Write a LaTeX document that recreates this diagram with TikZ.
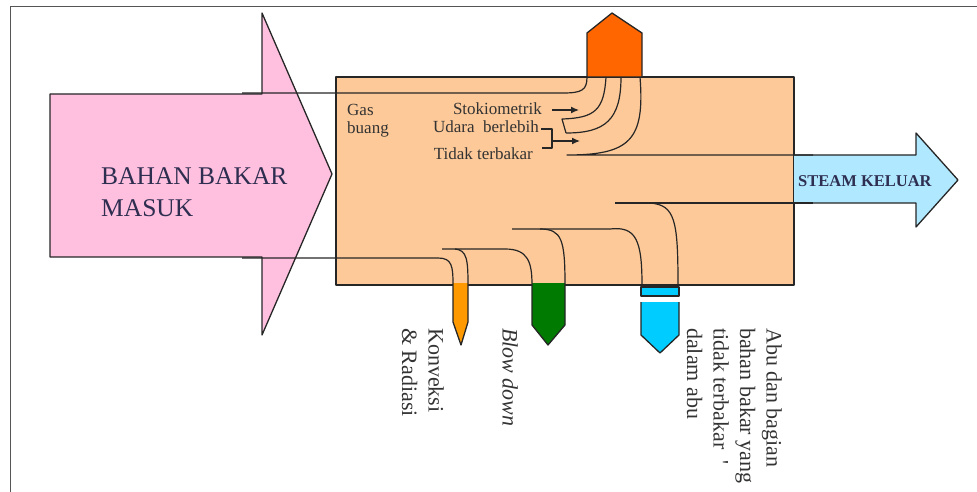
\documentclass[tikz,border=0pt]{standalone}
\usepackage{fontspec}
\setmainfont{Liberation Serif}
\newfontfamily\tms{Liberation Serif}
\usetikzlibrary{arrows.meta}
\definecolor{pinkfill}{HTML}{FFC0E0}
\definecolor{peach}{HTML}{FDC998}
\definecolor{chim}{HTML}{FF6600}
\definecolor{steam}{HTML}{B0E8FF}
\definecolor{konv}{HTML}{FF9900}
\definecolor{blow}{HTML}{007A00}
\definecolor{abu}{HTML}{00CCFF}
\definecolor{navy}{HTML}{2E2E50}
\definecolor{framegray}{HTML}{555555}
\definecolor{txt}{HTML}{333333}
\begin{document}
\begin{tikzpicture}[x=1pt,y=-1pt,line join=round,
  outline/.style={draw=black!85,line width=1.3pt},
  flow/.style={draw=black!85,line width=1.2pt},
  boxtext/.style={inner sep=0pt,text=txt,font=\tms\fontsize{17}{18.5}\selectfont},
  vlabel/.style={inner sep=0pt,rotate=-90,anchor=north west,align=left,text=txt,font=\tms\fontsize{22}{26.5}\selectfont},
  tip/.style={-{Latex[length=8pt,width=7pt]}}]
\useasboundingbox (0,0) rectangle (977,492);
% frame
\draw[framegray,line width=1.8pt] (10.5,492) -- (10.5,6.5) -- (977,6.5);
% fuel arrow
\draw[outline,fill=pinkfill] (50,94) -- (262,94) -- (262,13) -- (332,174) -- (262,335) -- (262,257) -- (50,257) -- cycle;
% boiler box
\draw[outline,fill=peach] (336,77) rectangle (794,285);
% chimney
\draw[outline,fill=chim] (587,77) -- (587,33) -- (612,13) -- (642,33) -- (642,77) -- cycle;
% steam arrow
\draw[outline,fill=steam] (794,155) -- (916,155) -- (916,133) -- (958,180) -- (916,227) -- (916,203) -- (794,203);
% output arrows
\fill[konv] (453,283) -- (468,283) -- (468,322) -- (461,345) -- (453,322) -- cycle;
\draw[outline] (453,285) -- (453,322) -- (461,345) -- (468,322) -- (468,285);
\fill[blow] (532,283) -- (565,283) -- (565,325) -- (548,345) -- (532,325) -- cycle;
\draw[outline] (532,285) -- (532,325) -- (548,345) -- (565,325) -- (565,285);
\draw[outline,fill=abu] (641,287) rectangle (679,296);
\fill[abu] (641,302) -- (679,302) -- (679,335) -- (660,353) -- (641,335) -- cycle;
\draw[outline] (641,302) -- (641,335) -- (660,353) -- (679,335) -- (679,302);
% flue gas flows
\draw[flow] (242,93) -- (563,93) .. controls (582,93) and (587,90) .. (587,77);
\draw[flow] (606,77) .. controls (604,110) and (595,118) .. (562,119) -- (566,133);
\draw[flow] (621,77) .. controls (621,120) and (605,133) .. (566,133);
\draw[flow] (640,77) .. controls (645,140) and (630,155) .. (567,155) -- (813,155);
% bottom flows
\draw[flow] (242,258) -- (438,258) .. controls (452,258) and (453,266) .. (453,285);
\draw[flow] (442,249) -- (505,249) .. controls (528,249) and (532,262) .. (532,285);
\draw[flow] (455,249) .. controls (467,250) and (468,260) .. (468,285);
\draw[flow] (512,229) -- (610,229) .. controls (636,226) and (642,240) .. (642,285);
\draw[flow] (540,229) .. controls (562,229) and (565,240) .. (565,285);
\draw[flow] (615,203) -- (813,203);
\draw[flow] (650,203) .. controls (675,205) and (678,220) .. (678,285);
% texts
\node[inner sep=0pt,anchor=north west,align=left,text=navy,font=\tms\fontsize{25.5}{32.5}\selectfont] (fuel) at (101,167) {BAHAN BAKAR\\MASUK};
\node[inner sep=0pt,anchor=west,text=navy,font=\tms\bfseries\fontsize{16.5}{18}\selectfont] (steamlbl) at (798,181) {STEAM KELUAR};
\node[boxtext,anchor=north west,align=left] (gas) at (347,104) {Gas\\buang};
\node[boxtext,anchor=base east] (stoik) at (542,115) {Stokiometrik};
\node[boxtext,anchor=base east] (udara) at (539,133) {Udara\ \ berlebih};
\node[boxtext,anchor=base east] (tidak) at (533,159) {Tidak terbakar};
\coordinate (s1) at (552,110);
\coordinate (s2) at (579,110);
\draw[flow,tip] (s1) -- (s2);
\coordinate (b1) at (541,129);
\coordinate (b2) at (552,129);
\coordinate (b3) at (552,148);
\coordinate (b4) at (542,148);
\draw[flow] (b1) -- (b2) -- (b3) -- (b4);
\coordinate (b5) at (552,141);
\coordinate (b6) at (580,141);
\draw[flow,tip] (b5) -- (b6);
\node[vlabel] (konvlbl) at (444,328) {Konveksi\\\& Radiasi};
\node[vlabel,font=\tms\fontsize{22}{26.5}\selectfont\itshape] (blowlbl) at (518,328) {Blow down};
\node[vlabel] (abulbl) at (782,328) {Abu dan bagian\\bahan bakar yang\\tidak terbakar\ \ '\\dalam abu};
\end{tikzpicture}
\end{document}
